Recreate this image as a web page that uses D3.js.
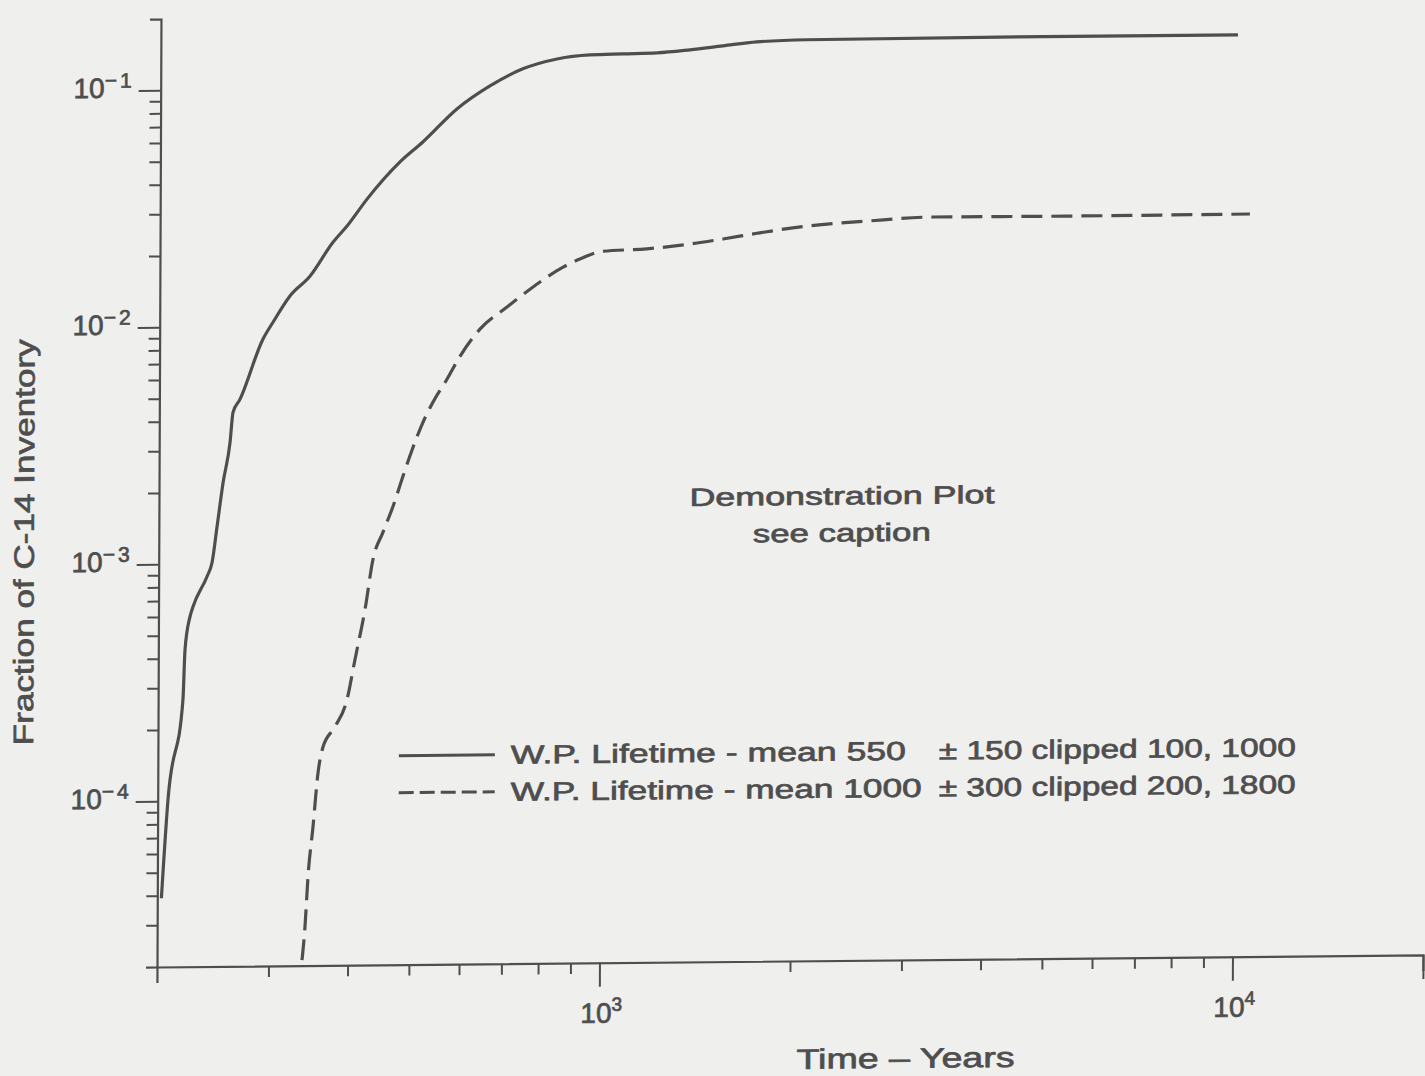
<!DOCTYPE html>
<html>
<head>
<meta charset="utf-8">
<script src="https://cdn.jsdelivr.net/npm/d3@7"></script>
<style>
  html, body { margin: 0; padding: 0; background: #efefed; }
  svg { display: block; }
  text { font-family: "Liberation Sans", Arial, sans-serif; fill: #4e4e4e; stroke: #4e4e4e; stroke-width: 0.7px; }
</style>
</head>
<body>
<svg id="chart" width="1425" height="1076"></svg>
<script>
// Cumulative C-14 release (fraction of inventory) versus time for two
// waste-package lifetime distributions.
const timeDomain = [200, 20000];
const fractionDomain = [2e-5, 0.2];

const solidYears = [203, 207.6, 218.9, 220.4, 224.3, 226.8, 238.5, 242.8, 247.2, 252.5, 258.8,
  261.5, 268.1, 291.2, 302, 321.1, 345.2, 375.2, 394.8, 424.4, 478.2, 519.5, 587.7, 662.5,
  746.6, 845.3, 952.8, 1074.5, 1216, 1371, 1545, 1748, 2098, 4232, 10060];
const solidFraction = [3.9e-5, 1.01e-4, 2.68e-4, 4.36e-4, 6.0e-4, 6.62e-4, 8.85e-4, 1.01e-3,
  1.44e-3, 2.20e-3, 3.25e-3, 4.35e-3, 4.93e-3, 8.83e-3, 1.04e-2, 1.34e-2, 1.62e-2, 2.25e-2,
  2.63e-2, 3.41e-2, 4.88e-2, 5.91e-2, 8.12e-2, 0.1013, 0.1192, 0.1308, 0.1356, 0.1366, 0.1375,
  0.1412, 0.1463, 0.1516, 0.154, 0.1552, 0.1553];

const dashedYears = [338.9, 342.4, 345.9, 352, 358.2, 364.6, 380.7, 397.6, 409, 423.9, 436.1,
  452.1, 468.7, 485.7, 502.3, 521.9, 541, 569.2, 596.6, 641.2, 707.3, 768.9, 866.8, 921.5,
  1002, 1176, 1375, 1550, 1754, 2104, 2617, 3327, 5416, 10536];
const dashedFraction = [2.11e-5, 2.91e-5, 4.73e-5, 7.69e-5, 1.30e-4, 1.67e-4, 2.03e-4, 2.64e-4,
  3.89e-4, 6.32e-4, 1.03e-3, 1.34e-3, 1.72e-3, 2.30e-3, 2.99e-3, 3.88e-3, 4.71e-3, 5.88e-3,
  7.34e-3, 9.54e-3, 1.18e-2, 1.40e-2, 1.73e-2, 1.87e-2, 2.01e-2, 2.05e-2, 2.14e-2, 2.24e-2,
  2.36e-2, 2.52e-2, 2.63e-2, 2.72e-2, 2.71e-2, 2.72e-2];

const xMajorTicks = [1000, 10000, 20000];
const xMajorLabels = ["3", "4", null];
const yMajorTicks = [1e-1, 1e-2, 1e-3, 1e-4];
const yMajorLabels = ["\u22121", "\u22122", "\u22123", "\u22124"];

const legendMeans = ["W.P. Lifetime - mean 550", "W.P. Lifetime - mean 1000"];
const legendSpreads = ["\u00b1 150 clipped 100, 1000", "\u00b1 300 clipped 200, 1800"];

const xTitle = "Time \u2013 Years";
const yTitle = "Fraction of C-14 Inventory";
const noteLines = ["Demonstration Plot", "see caption"];

// ---- layout ----
const left = 157, bottom = 967, plotW = 1266, plotH = 948;
const ink = "#4e4e4e";

const svg = d3.select("#chart");
svg.append("rect").attr("width", 1425).attr("height", 1076).attr("fill", "#efefed");

// slight skew of the sheet: baseline rises to the right, vertical axis leans
const kb = -0.0095, kc = -0.0042;
const g = svg.append("g")
  .attr("transform", `matrix(1, ${kb}, ${kc}, 1, ${-kc * bottom}, ${-kb * left})`);

const x = d3.scaleLog().domain(timeDomain).range([left, left + plotW]);
const y = d3.scaleLog().domain(fractionDomain).range([bottom, bottom - plotH]);

// ---- axes ----
const xMinor = x.ticks().filter(v => !xMajorTicks.includes(v) && v !== timeDomain[0]);
const yMinor = y.ticks().filter(v => !yMajorTicks.some(m => Math.abs(m - v) / m < 1e-6)
  && v !== fractionDomain[0] && Math.abs(v - fractionDomain[1]) > 1e-9);

function styleAxis(sel) {
  sel.selectAll("path").attr("stroke", ink).attr("stroke-width", 2.2);
  sel.selectAll("line").attr("stroke", ink).attr("stroke-width", 2);
  sel.selectAll("text").remove();
}

g.append("g").attr("transform", `translate(0,${bottom})`)
  .call(d3.axisBottom(x).tickValues(xMinor).tickSize(11).tickSizeOuter(16).tickFormat(""))
  .call(styleAxis);
g.append("g").attr("transform", `translate(0,${bottom})`)
  .call(d3.axisBottom(x).tickValues(xMajorTicks).tickSize(24).tickSizeOuter(0).tickFormat(""))
  .call(sel => sel.select("path").remove())
  .call(styleAxis);

g.append("g").attr("transform", `translate(${left},0)`)
  .call(d3.axisLeft(y).tickValues(yMinor).tickSize(11).tickSizeOuter(11).tickFormat(""))
  .call(styleAxis);
g.append("g").attr("transform", `translate(${left},0)`)
  .call(d3.axisLeft(y).tickValues(yMajorTicks).tickSize(22).tickSizeOuter(0).tickFormat(""))
  .call(sel => sel.select("path").remove())
  .call(styleAxis);

// ---- tick labels (powers of ten) ----
xMajorTicks.forEach((v, i) => {
  if (!xMajorLabels[i]) return;
  const t = g.append("text").attr("x", x(v) + 2).attr("y", bottom + 60)
    .attr("text-anchor", "middle").attr("font-size", 28);
  t.append("tspan").text("10");
  t.append("tspan").attr("dy", -12).attr("font-size", 19).text(xMajorLabels[i]);
});

yMajorTicks.forEach((v, i) => {
  const t = g.append("text").attr("x", left - 26).attr("y", y(v) + 7)
    .attr("text-anchor", "end").attr("font-size", 28);
  t.append("tspan").text("10");
  t.append("tspan").attr("dy", -10).attr("font-size", 21).attr("letter-spacing", 3)
    .text(yMajorLabels[i]);
});

// ---- axis titles ----
g.append("text").attr("x", 906).attr("y", bottom + 108)
  .attr("text-anchor", "middle").attr("font-size", 28)
  .attr("textLength", 218).attr("lengthAdjust", "spacingAndGlyphs")
  .text(xTitle);

g.append("text").attr("transform", "translate(32,541) rotate(-90)")
  .attr("text-anchor", "middle").attr("font-size", 28)
  .attr("textLength", 406).attr("lengthAdjust", "spacingAndGlyphs")
  .text(yTitle);

// ---- curves ----
const line = d3.line().x(d => x(d[0])).y(d => y(d[1])).curve(d3.curveMonotoneX);
const series = [
  { pts: d3.zip(solidYears, solidFraction), dash: null },
  { pts: d3.zip(dashedYears, dashedFraction), dash: "21,9" }
];
g.selectAll("path.curve").data(series).join("path")
  .attr("class", "curve")
  .attr("d", d => line(d.pts))
  .attr("fill", "none").attr("stroke", ink).attr("stroke-width", 3.2)
  .attr("stroke-dasharray", d => d.dash);

// ---- annotation ----
const noteWidths = [305, 178];
noteLines.forEach((s, i) => {
  g.append("text").attr("x", 840).attr("y", 511 + i * 37)
    .attr("text-anchor", "middle").attr("font-size", 25)
    .attr("textLength", noteWidths[i]).attr("lengthAdjust", "spacingAndGlyphs")
    .text(s);
});

// ---- legend ----
const legendDash = [null, "15,6"];
const meanWidths = [395, 411];
legendMeans.forEach((s, i) => {
  const base = 767 + i * 37;
  g.append("line").attr("x1", 398).attr("x2", 494)
    .attr("y1", base - 9).attr("y2", base - 9)
    .attr("stroke", ink).attr("stroke-width", 3)
    .attr("stroke-dasharray", legendDash[i]);
  g.append("text").attr("x", 510).attr("y", base).attr("font-size", 26)
    .attr("textLength", meanWidths[i]).attr("lengthAdjust", "spacingAndGlyphs")
    .text(s);
  g.append("text").attr("x", 938).attr("y", base).attr("font-size", 26)
    .attr("textLength", 357).attr("lengthAdjust", "spacingAndGlyphs")
    .text(legendSpreads[i]);
});
</script>
</body>
</html>
